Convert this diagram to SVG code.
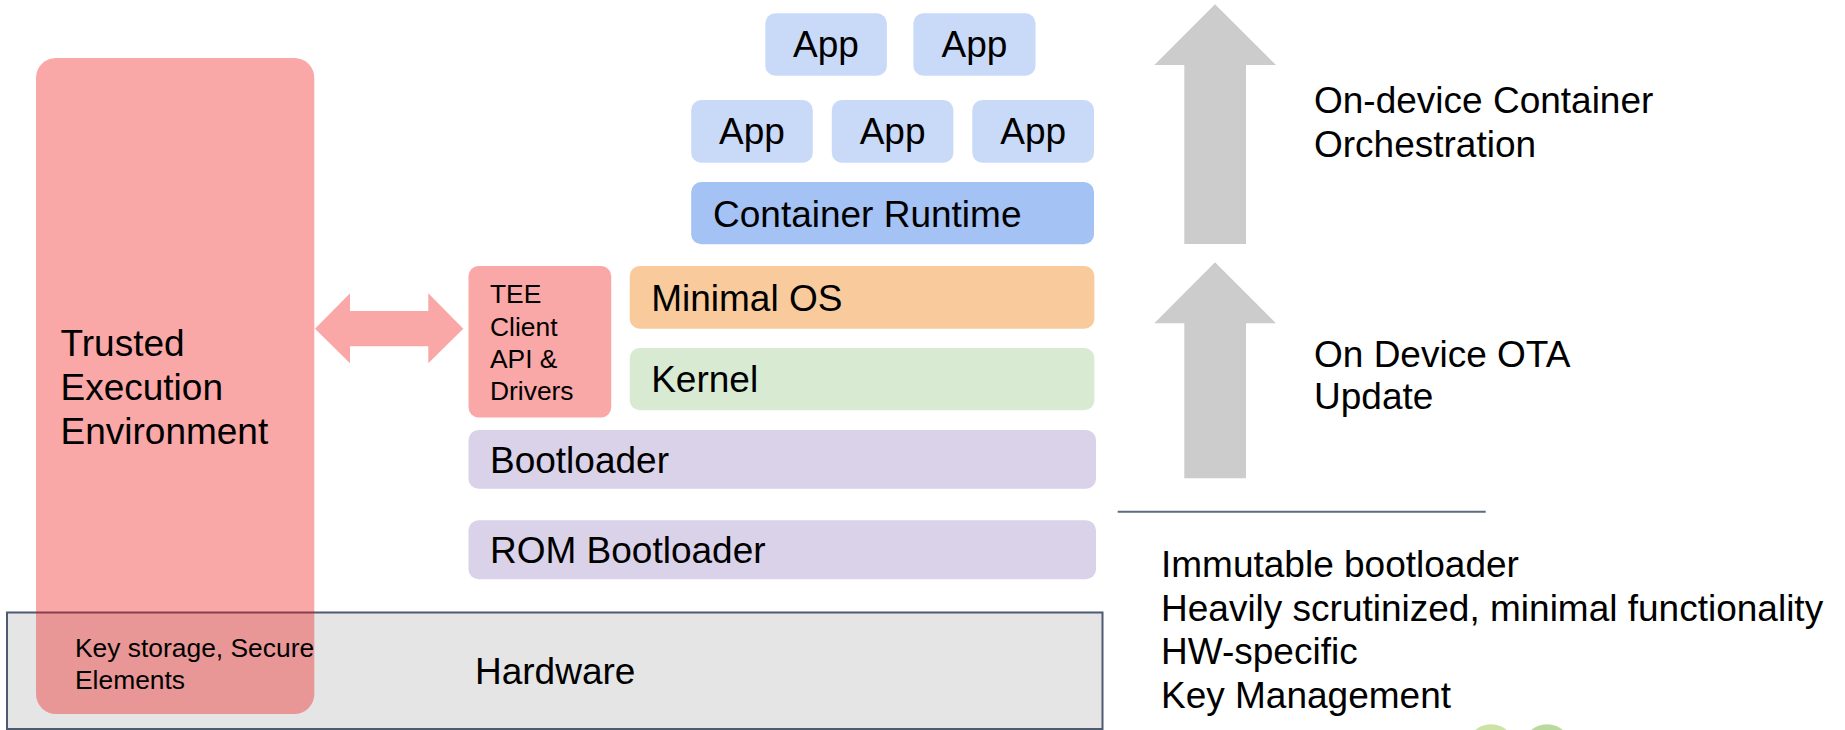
<svg xmlns="http://www.w3.org/2000/svg" width="1845" height="730" viewBox="0 0 1845 730">
  <style>
    text { font-family: "Liberation Sans", Arial, sans-serif; fill: #000; }
    .big { font-size: 37px; }
    .small { font-size: 26.4px; }
    .app { fill: #c9daf8; }
    .tee { fill: rgb(240,12,12); fill-opacity: 0.36; }
    .grey { fill: #cccccc; }
  </style>
  <rect width="1845" height="730" fill="#ffffff"/>

  <g id="hardware">
    <rect x="7" y="612.5" width="1095.5" height="116.5" fill="#e5e5e5" stroke="#4d5b70" stroke-width="2"/>
    <text class="big" x="475" y="684">Hardware</text>
  </g>

  <g id="tee">
    <rect class="tee" x="36" y="58" width="278.3" height="656" rx="20"/>
    <text class="big" x="60.5" y="356">Trusted</text>
    <text class="big" x="60.5" y="400">Execution</text>
    <text class="big" x="60.5" y="444">Environment</text>
    <text class="small" x="75" y="657">Key storage, Secure</text>
    <text class="small" x="75" y="689">Elements</text>
  </g>

  <g id="tee-client">
    <rect class="tee" x="468.5" y="266" width="142.7" height="151.5" rx="10"/>
    <text class="small" x="490" y="303.3">TEE</text>
    <text class="small" x="490" y="335.5">Client</text>
    <text class="small" x="490" y="367.5">API &amp;</text>
    <text class="small" x="490" y="399.5">Drivers</text>
  </g>

  <g id="app-1">
    <rect class="app" x="765.3" y="13.3" width="121.6" height="62.4" rx="10"/>
    <text class="big" x="826" y="57.3" text-anchor="middle">App</text>
  </g>
  <g id="app-2">
    <rect class="app" x="913.4" y="13.3" width="122.1" height="62.4" rx="10"/>
    <text class="big" x="974.5" y="57.3" text-anchor="middle">App</text>
  </g>
  <g id="app-3">
    <rect class="app" x="691.2" y="100" width="121.6" height="62.7" rx="10"/>
    <text class="big" x="752" y="144" text-anchor="middle">App</text>
  </g>
  <g id="app-4">
    <rect class="app" x="831.8" y="100" width="121.6" height="62.7" rx="10"/>
    <text class="big" x="892.6" y="144" text-anchor="middle">App</text>
  </g>
  <g id="app-5">
    <rect class="app" x="972.3" y="100" width="121.7" height="62.7" rx="10"/>
    <text class="big" x="1033.2" y="144" text-anchor="middle">App</text>
  </g>

  <g id="container-runtime">
    <rect x="691.2" y="182" width="402.8" height="62.3" rx="10" fill="#a4c2f4"/>
    <text class="big" x="713" y="226.7">Container Runtime</text>
  </g>

  <g id="minimal-os">
    <rect x="629.7" y="266" width="464.7" height="62.7" rx="10" fill="#f9cb9c"/>
    <text class="big" x="651.2" y="311">Minimal OS</text>
  </g>

  <g id="kernel">
    <rect x="629.7" y="348" width="464.7" height="62.3" rx="10" fill="#d9ead3"/>
    <text class="big" x="651.2" y="392.3">Kernel</text>
  </g>

  <g id="bootloader">
    <rect x="468.5" y="430" width="627.5" height="58.7" rx="10" fill="#d9d2e9"/>
    <text class="big" x="490" y="472.7">Bootloader</text>
  </g>

  <g id="rom-bootloader">
    <rect x="468.5" y="520.3" width="627.5" height="59" rx="10" fill="#d9d2e9"/>
    <text class="big" x="490" y="563.3">ROM Bootloader</text>
  </g>

  <g id="connectors">
    <polygon class="tee" points="315,328.7 350,293.3 350,311 428.3,311 428.3,293.3 463.3,328.7 428.3,363.3 428.3,346.3 350,346.3 350,363.3"/>
    <polygon class="grey" points="1215,4.3 1276,65 1246,65 1246,244 1184.3,244 1184.3,65 1154.3,65"/>
    <polygon class="grey" points="1215,262.3 1276,323.3 1246,323.3 1246,478.3 1184.3,478.3 1184.3,323.3 1154.3,323.3"/>
  </g>

  <g id="orchestration-label">
    <text class="big" x="1314" y="113.3">On-device Container</text>
    <text class="big" x="1314" y="156.7">Orchestration</text>
  </g>
  <g id="ota-label">
    <text class="big" x="1314" y="366.7">On Device OTA</text>
    <text class="big" x="1314" y="409.3">Update</text>
  </g>

  <g id="divider">
    <line x1="1117.7" y1="511.7" x2="1485.7" y2="511.7" stroke="#5b6b80" stroke-width="2"/>
  </g>

  <g id="rom-notes">
    <text class="big" x="1161" y="576.7">Immutable bootloader</text>
    <text class="big" x="1161" y="620.5">Heavily scrutinized, minimal functionality</text>
    <text class="big" x="1161" y="664.2">HW-specific</text>
    <text class="big" x="1161" y="708">Key Management</text>
  </g>

  <g id="green-circles">
    <circle cx="1491" cy="748.5" r="24.3" fill="#cde3a3"/>
    <circle cx="1547" cy="748.5" r="24.3" fill="#b9da9c"/>
  </g>
</svg>
